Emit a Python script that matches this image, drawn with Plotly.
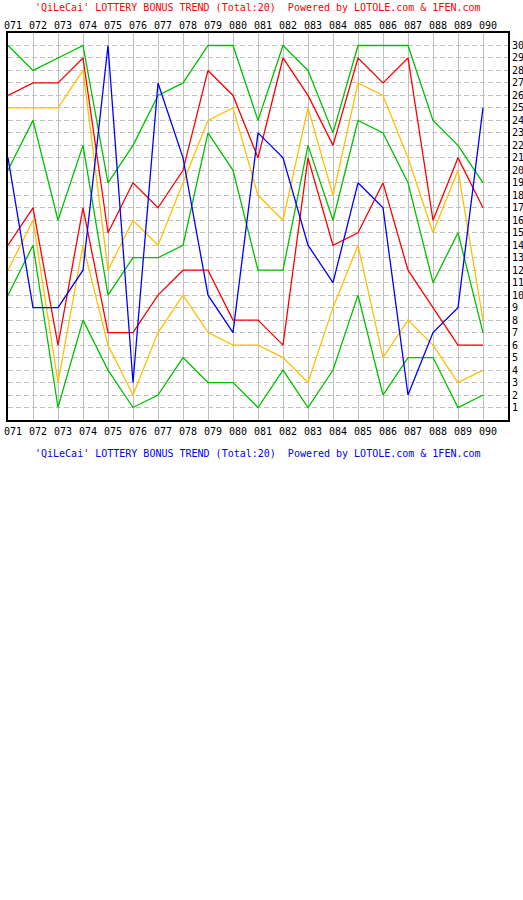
import plotly.graph_objects as go

# ====================================================
# DATA
# ====================================================
draws = ["071", "072", "073", "074", "075", "076", "077", "078", "079", "080",
         "081", "082", "083", "084", "085", "086", "087", "088", "089", "090"]

# regular numbers, sorted high -> low, one list per rank
rank1 = [30, 28, 29, 30, 19, 22, 26, 27, 30, 30, 24, 30, 28, 23, 30, 30, 30, 24, 22, 19]
rank2 = [26, 27, 27, 29, 15, 19, 17, 20, 28, 26, 21, 29, 26, 22, 29, 27, 29, 16, 21, 17]
rank3 = [25, 25, 25, 28, 12, 16, 14, 19, 24, 25, 18, 16, 25, 18, 27, 26, 21, 15, 20, 8]
rank4 = [20, 24, 16, 22, 10, 13, 13, 14, 23, 20, 12, 12, 22, 16, 24, 23, 19, 11, 15, 7]
rank5 = [14, 17, 6, 17, 7, 7, 10, 12, 12, 8, 8, 6, 21, 14, 15, 19, 12, 9, 6, 6]
rank6 = [12, 16, 3, 14, 6, 2, 7, 10, 7, 6, 6, 5, 3, 9, 14, 5, 8, 6, 3, 4]
rank7 = [10, 14, 1, 8, 4, 1, 2, 5, 3, 3, 1, 4, 1, 4, 10, 2, 5, 5, 1, 2]

bonus = [21, 9, 9, 12, 30, 3, 27, 21, 10, 7, 23, 21, 14, 11, 19, 17, 2, 7, 9, 25]

y_ticks = list(range(1, 31))

title_text = ("'QiLeCai' LOTTERY BONUS TREND (Total:20)\u00a0\u00a0"
              "Powered by LOTOLE.com &amp; 1FEN.com")

# ====================================================
# COLORS
# ====================================================
green = "#00c000"
red = "#ff0000"
yellow = "#ffc000"
blue = "#0000ff"
grid = "#c0c0c0"
font = "DejaVu Sans Mono"

x = list(range(len(draws)))

fig = go.Figure()

series = [
    (rank1, green), (rank2, red), (rank3, yellow), (rank4, green),
    (rank5, red), (rank6, yellow), (rank7, green), (bonus, blue),
]
for vals, col in series:
    fig.add_trace(go.Scatter(
        x=x, y=vals,
        mode="lines",
        line=dict(color=col, width=1.3),
        hoverinfo="skip",
        showlegend=False
    ))

# dummy trace so the top axis is drawn
fig.add_trace(go.Scatter(
    x=x, y=bonus, xaxis="x2", mode="lines",
    line=dict(width=0), opacity=0, hoverinfo="skip", showlegend=False
))

axis_common = dict(
    range=[0, len(draws)],
    tickmode="array",
    tickvals=x,
    ticktext=draws,
    tickfont=dict(family=font, size=10, color="black"),
    ticks="",
    automargin=False,
    ticklabeloverflow="allow",
    ticklabelshift=5,
)

fig.update_layout(
    width=523, height=900,
    margin=dict(l=8, r=15, t=33, b=480),
    paper_bgcolor="white",
    plot_bgcolor="white",
    xaxis=dict(
        **axis_common,
        side="bottom",
        showgrid=True, gridcolor=grid, gridwidth=1,
        showline=True, linecolor="black", linewidth=2, mirror=True,
        zeroline=False,
        ticklabelstandoff=1,
    ),
    xaxis2=dict(
        **axis_common,
        side="top",
        overlaying="x",
        showgrid=False, zeroline=False, showline=False,
        ticklabelstandoff=1,
    ),
    yaxis=dict(
        range=[0, 31],
        side="right",
        tickmode="array",
        tickvals=y_ticks,
        ticktext=[str(v) for v in y_ticks],
        tickfont=dict(family=font, size=10, color="black"),
        ticks="",
        ticklabelstandoff=0,
        automargin=False,
        ticklabeloverflow="allow",
        showgrid=True, gridcolor=grid, gridwidth=1, griddash="5px,3px",
        showline=True, linecolor="black", linewidth=2, mirror=True,
        zeroline=False,
    ),
    annotations=[
        dict(text=title_text, xref="paper", yref="paper", x=0.5, y=1.067,
             xanchor="center", yanchor="middle", showarrow=False,
             font=dict(family=font, size=10, color=red)),
        dict(text=title_text, xref="paper", yref="paper", x=0.5, y=-0.0853,
             xanchor="center", yanchor="middle", showarrow=False,
             font=dict(family=font, size=10, color=blue)),
    ],
)

# page has a default body margin; drop it so the chart sits at 0,0
fig.write_html("out.html", config={"displayModeBar": False},
               post_script="document.body.style.margin = '0';")
